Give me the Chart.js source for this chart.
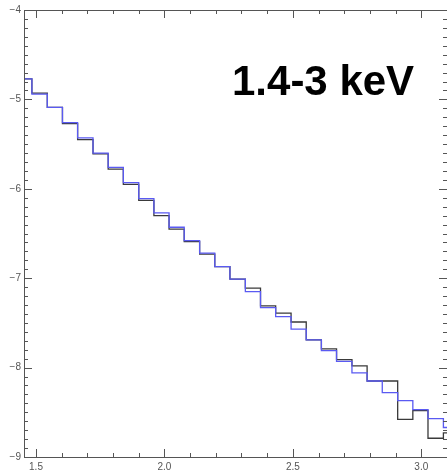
<!DOCTYPE html>
<html>
<head>
<meta charset="utf-8">
<script src="https://cdn.jsdelivr.net/npm/chart.js@4/dist/chart.umd.min.js"></script>
<style>
  html, body { margin: 0; padding: 0; background: #fff; }
  #wrap { position: relative; width: 447px; height: 473px; }
  #bandLabel {
    position: absolute; left: 232px; top: 60px;
    font: bold 42px "Liberation Sans", Arial, sans-serif;
    line-height: 42px; color: #000; white-space: nowrap;
  }
</style>
</head>
<body>
<div id="wrap">
  <canvas id="spectrumChart" width="447" height="473"></canvas>
  <div id="bandLabel">1.4-3 keV</div>
</div>
<script>
// bin edges (keV) and log values for the two histograms
const binEdges = [1.425, 1.484, 1.544, 1.603, 1.662, 1.722, 1.781, 1.840, 1.900, 1.959,
                  2.018, 2.077, 2.137, 2.196, 2.255, 2.315, 2.374, 2.433, 2.493, 2.552,
                  2.611, 2.670, 2.730, 2.789, 2.848, 2.908, 2.967, 3.026, 3.086, 3.145];
const blueValues = [-4.77, -4.94, -5.09, -5.26, -5.43, -5.60, -5.76, -5.93, -6.11, -6.27,
                    -6.43, -6.58, -6.72, -6.87, -7.01, -7.15, -7.33, -7.43, -7.57, -7.69,
                    -7.81, -7.93, -8.06, -8.15, -8.28, -8.37, -8.47, -8.57, -8.67];
const blackValues = [-4.77, -4.93, -5.09, -5.27, -5.45, -5.61, -5.78, -5.95, -6.13, -6.30,
                     -6.45, -6.59, -6.73, -6.87, -7.01, -7.11, -7.31, -7.39, -7.49, -7.69,
                     -7.79, -7.91, -7.98, -8.15, -8.15, -8.58, -8.48, -8.79, -8.73];
const xTicks = [1.5, 2.0, 2.5, 3.0];
const yTicks = [-9, -8, -7, -6, -5, -4];

// histogram -> step outline
function stepPoints(edges, vals) {
    const pts = [];
    vals.forEach((v, i) => {
        pts.push({ x: edges[i], y: v });
        pts.push({ x: edges[i + 1], y: v });
    });
    return pts;
}

// box frame with inward major/minor ticks on all four sides
const frameTicks = {
    id: 'frameTicks',
    afterDatasetsDraw(chart) {
        const { ctx, chartArea: a, scales: { x, y } } = chart;
        ctx.save();
        ctx.strokeStyle = '#555';
        ctx.lineWidth = 1;
        ctx.strokeRect(a.left + 0.5, a.top + 0.5, a.right - a.left, a.bottom - a.top);
        ctx.beginPath();
        for (let i = Math.ceil(x.min * 10 - 1e-6); i <= Math.floor(x.max * 10 + 1e-6); i++) {
            const px = Math.round(x.getPixelForValue(i / 10)) + 0.5;
            const len = i % 5 === 0 ? 8 : 4;
            ctx.moveTo(px, a.bottom); ctx.lineTo(px, a.bottom - len);
            ctx.moveTo(px, a.top); ctx.lineTo(px, a.top + len);
        }
        for (let i = Math.round(y.min * 10); i <= Math.round(y.max * 10); i++) {
            const py = Math.round(y.getPixelForValue(i / 10)) + 0.5;
            const len = i % 10 === 0 ? 8 : 4;
            ctx.moveTo(a.left, py); ctx.lineTo(a.left + len, py);
            ctx.moveTo(a.right, py); ctx.lineTo(a.right - len, py);
        }
        ctx.stroke();
        ctx.restore();
    }
};

const tickFont = { family: 'Liberation Sans', size: 10 };

new Chart(document.getElementById('spectrumChart').getContext('2d'), {
    type: 'scatter',
    data: {
        datasets: [{
            label: 'blue',
            data: stepPoints(binEdges, blueValues),
            showLine: true,
            borderColor: '#5a5af2',
            borderWidth: 1.3,
            pointRadius: 0,
            tension: 0
        }, {
            label: 'black',
            data: stepPoints(binEdges, blackValues),
            showLine: true,
            borderColor: '#3a3a3a',
            borderWidth: 1.3,
            pointRadius: 0,
            tension: 0
        }]
    },
    options: {
        responsive: false,
        animation: false,
        layout: { padding: { top: 10, right: 0, left: 0, bottom: 0 } },
        plugins: {
            legend: { display: false },
            tooltip: { enabled: false }
        },
        scales: {
            x: {
                type: 'linear',
                min: 1.4533,
                max: 3.1,
                afterBuildTicks: s => { s.ticks = xTicks.map(v => ({ value: v })); },
                afterFit: s => { s.height = 16; },
                grid: { display: false, drawTicks: false },
                border: { display: false },
                ticks: {
                    padding: 4,
                    maxRotation: 0,
                    autoSkip: false,
                    color: '#555',
                    font: tickFont,
                    callback: v => v.toFixed(1)
                }
            },
            y: {
                type: 'linear',
                min: -9,
                max: -4,
                afterBuildTicks: s => { s.ticks = yTicks.map(v => ({ value: v })); },
                afterFit: s => { s.width = 24; },
                grid: { display: false, drawTicks: false },
                border: { display: false },
                ticks: {
                    padding: 3,
                    autoSkip: false,
                    color: '#555',
                    font: tickFont,
                    callback: v => '\u2212' + Math.abs(v)
                }
            }
        }
    },
    plugins: [frameTicks]
});
</script>
</body>
</html>
